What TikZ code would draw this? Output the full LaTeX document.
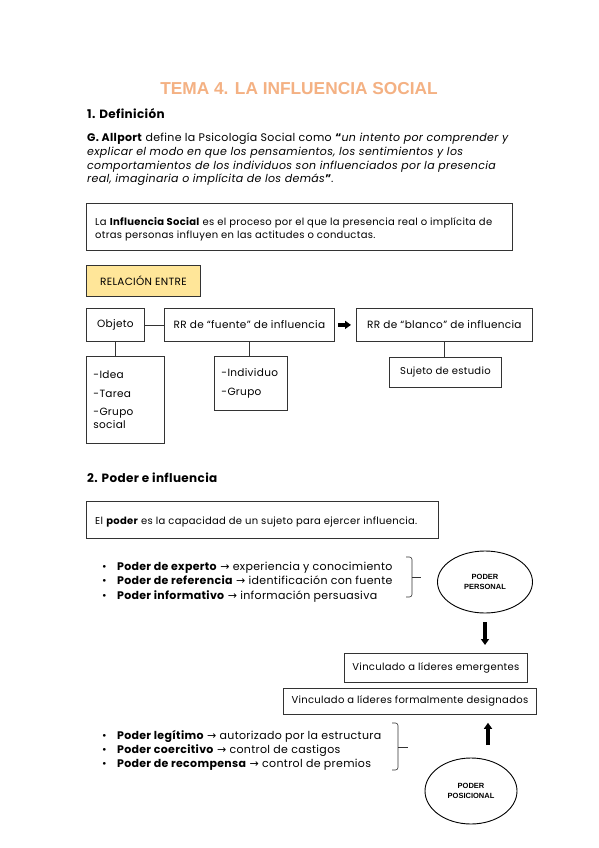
\documentclass[tikz,border=0pt]{standalone}
\usepackage{fontspec}
\setmainfont{Poppins}[LetterSpace=3]
\newfontfamily\titlefont{Liberation Sans}
\newfontfamily\symf{DejaVu Sans}
\usetikzlibrary{arrows.meta,shapes.geometric}
\definecolor{titleor}{HTML}{F4B183}
\definecolor{relfill}{HTML}{FFE699}
\newcommand\parasz{\fontsize{11}{13}\selectfont}
\newcommand\boxsz{\fontsize{10}{12}\selectfont}
\newcommand\relsz{\fontsize{10.5}{12.5}\selectfont}
\newcommand\ar{{\symf →}}
\tikzset{
  box/.style={draw=black!80, line width=0.8pt, inner sep=0pt},
  txt/.style={anchor=base west, inner sep=0pt},
  para/.style={txt, font=\parasz},
  btxt/.style={txt, font=\boxsz},
  head/.style={txt, font=\bfseries\fontsize{12}{14}\selectfont},
  bul/.style={txt, font=\parasz},
  link/.style={draw=black!80, line width=0.8pt},
  bigarrow/.style={line width=3.2pt, -{Triangle[length=6pt,width=8pt]}},
  ell/.style={draw=black, line width=0.9pt, ellipse, inner sep=0pt, align=center, font=\titlefont\bfseries\fontsize{7.5}{9.5}\selectfont},
  brk/.style={draw=black!80, line width=0.6pt, rounded corners=2.5pt}
}
\begin{document}
\begin{tikzpicture}[x=1pt,y=-1pt]
\useasboundingbox[fill=white] (0,0) rectangle (599,848);
% title
\node[font=\titlefont\bfseries\fontsize{17.3}{20}\selectfont, text=titleor, anchor=base, inner sep=0pt] (title) at (299,95) {TEMA 4. LA INFLUENCIA SOCIAL};
% section 1
\node[head] (h1) at (87,118) {1. Definición};
\node[para] (p1) at (87,141) {\textbf{G. Allport} define la Psicología Social como \textbf{“}\textit{un intento por comprender y}};
\node[para] (p2) at (87,155) {\textit{explicar el modo en que los pensamientos, los sentimientos y los}};
\node[para] (p3) at (87,169) {\textit{comportamientos de los individuos son influenciados por la presencia}};
\node[para] (p4) at (87,182) {\textit{real, imaginaria o implícita de los demás}\textbf{”}.};
\node[box, line width=1pt, minimum width=426pt, minimum height=47pt, anchor=north west] (defbox) at (86,203) {};
\node[btxt] (d1) at (95,225) {La \textbf{Influencia Social} es el proceso por el que la presencia real o implícita de};
\node[btxt] (d2) at (95,238) {otras personas influyen en las actitudes o conductas.};
% relation
\node[box, fill=relfill, minimum width=114pt, minimum height=31pt, anchor=north west, font=\relsz] (rel) at (86,265) {RELACIÓN ENTRE};
\node[box, minimum width=58pt, minimum height=33pt, anchor=north west, font=\relsz] (obj) at (86,308) {Objeto};
\node[box, minimum width=170pt, minimum height=33pt, anchor=north west, font=\relsz] (fuente) at (164,308) {RR de “fuente” de influencia};
\node[box, minimum width=176pt, minimum height=33pt, anchor=north west, font=\relsz] (blanco) at (356,308) {RR de “blanco” de influencia};
\node[box, minimum width=78pt, minimum height=87pt, anchor=north west, font=\relsz, text width=64pt, inner xsep=7pt, align=left] (objlist) at (86,356) {-Idea\\[6pt]-Tarea\\[6pt]-Grupo\\social};
\node[box, minimum width=73pt, minimum height=54pt, anchor=north west, font=\relsz, text width=59pt, inner xsep=7pt, align=left] (fuelist) at (214,356) {-Individuo\\[6pt]-Grupo};
\node[box, minimum width=112pt, minimum height=30pt, anchor=north west, font=\boxsz] (sujeto) at (389,357) {Sujeto de estudio};
\draw[link] (obj) -- (fuente);
\draw[link] (obj.south) -- (obj.south |- objlist.north);
\draw[link] (fuente.south) -- (fuente.south |- fuelist.north);
\draw[link] (blanco.south) -- (blanco.south |- sujeto.north);
\draw[bigarrow] ([xshift=3pt]fuente.east) -- ([xshift=-5pt]blanco.west);
% section 2
\node[head] (h2) at (87,482) {2. Poder e influencia};
\node[box, line width=1pt, minimum width=352pt, minimum height=37pt, anchor=north west] (podbox) at (86,501) {};
\node[btxt] (pd) at (95,524) {El \textbf{poder} es la capacidad de un sujeto para ejercer influencia.};
% bullets 1
\node[bul] (b1) at (102,570) {•\hspace{10pt}\textbf{Poder de experto} \ar{} experiencia y conocimiento};
\node[bul] (b2) at (102,584) {•\hspace{10pt}\textbf{Poder de referencia} \ar{} identificación con fuente};
\node[bul] (b3) at (102,599) {•\hspace{10pt}\textbf{Poder informativo} \ar{} información persuasiva};
\draw[brk] (406,557) -- (412,557) -- (412,597) -- (406,597);
\draw[brk] (412,577) -- (421,577);
\node[ell, minimum width=95pt, minimum height=62pt] (pp) at (485,582) {PODER\\PERSONAL};
% boxes
\node[box, minimum width=183pt, minimum height=29pt, anchor=north west, font=\boxsz] (emerg) at (344,653) {Vinculado a líderes emergentes};
\node[box, minimum width=253pt, minimum height=26pt, anchor=north west, font=\boxsz] (formal) at (283,688) {Vinculado a líderes formalmente designados};
\draw[bigarrow] ([yshift=-9pt]pp.south) -- ([yshift=8pt]pp.south |- emerg.north);
% bullets 2
\node[bul] (c1) at (102,739) {•\hspace{10pt}\textbf{Poder legítimo} \ar{} autorizado por la estructura};
\node[bul] (c2) at (102,753) {•\hspace{10pt}\textbf{Poder coercitivo} \ar{} control de castigos};
\node[bul] (c3) at (102,767) {•\hspace{10pt}\textbf{Poder de recompensa} \ar{} control de premios};
\draw[brk] (392,723) -- (398,723) -- (398,770) -- (392,770);
\draw[brk] (398,747) -- (408,747);
\node[ell, minimum width=92pt, minimum height=66pt] (pos) at (471,791) {PODER\\POSICIONAL};
\coordinate (upstart) at (488,745);
\draw[bigarrow] (upstart) -- ([yshift=-8pt]upstart |- formal.south);
\end{tikzpicture}
\end{document}
